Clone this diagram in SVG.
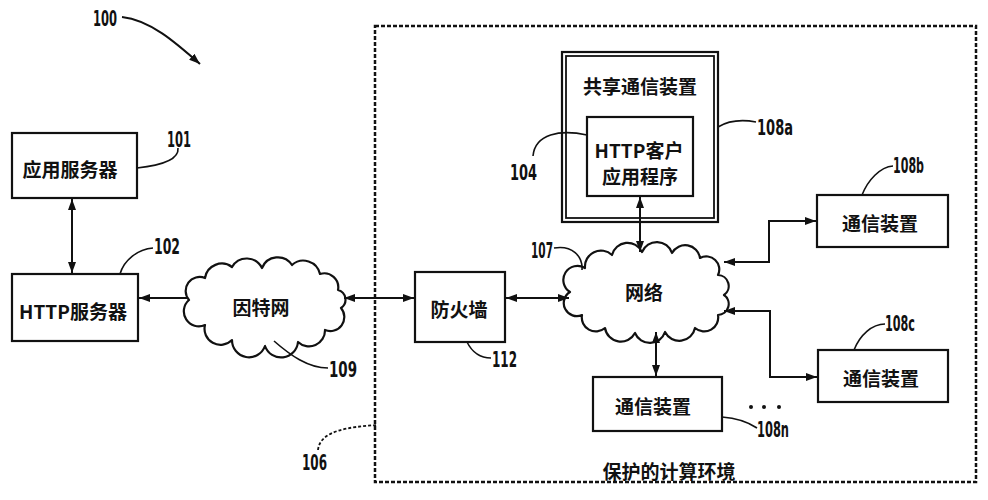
<svg xmlns="http://www.w3.org/2000/svg" width="988" height="500" viewBox="0 0 988 500">
<style>
.box{fill:#fff;stroke:#111;stroke-width:2.2}
.cloud{fill:#fff;stroke:#111;stroke-width:2.2;stroke-linejoin:round}
.t{font-family:"Noto Sans CJK SC","Noto Sans",sans-serif;font-weight:bold;font-size:19px;fill:#111;text-anchor:middle;dominant-baseline:central}
.n{font-family:"DejaVu Sans Condensed","Liberation Sans",sans-serif;font-weight:bold;font-size:21px;fill:#111}
.lead{fill:none;stroke:#111;stroke-width:1.6}
.conn{fill:none;stroke:#111;stroke-width:2}
</style>
<defs>
<marker id="ah" markerUnits="userSpaceOnUse" markerWidth="11" markerHeight="8" refX="11" refY="4" orient="auto-start-reverse">
<path d="M0,0 L11,4 L0,8 z" fill="#111"/>
</marker>
</defs>

<g id="boundary">
<rect x="375" y="26" width="601" height="456" fill="none" stroke="#111" stroke-width="2.5" stroke-dasharray="4 2"/>
<text class="t" x="669" y="470">保护的计算环境</text>
<path d="M318,450 C320,430 350,427 377,425" fill="none" stroke="#111" stroke-width="1.8" stroke-dasharray="3 2"/>
<text class="n" x="302" y="470" textLength="25" lengthAdjust="spacingAndGlyphs">106</text>
</g>

<g id="label100">
<text class="n" x="93" y="26" textLength="24" lengthAdjust="spacingAndGlyphs">100</text>
<path d="M122,17 C150,20 175,42 200,64" class="conn" marker-end="url(#ah)"/>
</g>

<g id="app-server">
<rect class="box" x="12" y="133" width="125" height="65"/>
<text class="t" x="70" y="168">应用服务器</text>
<path class="lead" d="M137,168 C165,165 179,158 178,148"/>
<text class="n" x="167" y="147" textLength="24" lengthAdjust="spacingAndGlyphs">101</text>
</g>

<g id="http-server">
<rect class="box" x="12" y="274" width="126" height="67"/>
<text class="t" x="73" y="310">HTTP服务器</text>
<path class="lead" d="M120,274 C124,260 138,249 153,248"/>
<text class="n" x="154" y="254" textLength="26" lengthAdjust="spacingAndGlyphs">102</text>
</g>

<g id="internet">
<path class="cloud" d="M189,300 A14,14 0 0,1 205,278 A17,17 0 0,1 232,267 A17,17 0 0,1 262,268 A17,17 0 0,1 292,265 A17,17 0 0,1 320,274 A14,14 0 0,1 338,290 A10,10 0 0,1 341,308 A14,14 0 0,1 325,330 A16,16 0 0,1 298,342 A17,17 0 0,1 265,346 A17,17 0 0,1 232,340 A16,16 0 0,1 205,325 A15,15 0 0,1 189,300 Z"/>
<text class="t" x="261" y="306">因特网</text>
<path class="lead" d="M274,341 C290,355 308,368 328,368"/>
<text class="n" x="329" y="377" textLength="28" lengthAdjust="spacingAndGlyphs">109</text>
</g>

<g id="firewall">
<rect class="box" x="415" y="272" width="90" height="70"/>
<text class="t" x="459" y="308">防火墙</text>
<path class="lead" d="M467,342 C472,352 480,358 491,358"/>
<text class="n" x="492" y="367" textLength="25" lengthAdjust="spacingAndGlyphs">112</text>
</g>

<g id="network">
<path class="cloud" d="M570,292 A14,14 0 0,1 585,268 A16,16 0 0,1 612,255 A16,16 0 0,1 642,252 A16,16 0 0,1 672,253 A15,15 0 0,1 700,258 A13,13 0 0,1 718,275 A11,11 0 0,1 724,295 A11,11 0 0,1 718,315 A14,14 0 0,1 695,328 A16,16 0 0,1 665,332 A16,16 0 0,1 635,333 A16,16 0 0,1 605,328 A14,14 0 0,1 582,315 A13,13 0 0,1 570,292 Z"/>
<text class="t" x="644" y="291">网络</text>
<path class="lead" d="M554,248 C572,245 583,256 582,270"/>
<text class="n" x="531" y="258" textLength="22" lengthAdjust="spacingAndGlyphs">107</text>
</g>

<g id="shared-device">
<rect class="box" x="562" y="52" width="156" height="170"/>
<rect fill="none" stroke="#111" stroke-width="1.8" x="566" y="56" width="148" height="162"/>
<text class="t" x="640" y="85">共享通信装置</text>
<path class="lead" d="M718,127 C728,121 740,119 756,122"/>
<text class="n" x="757" y="135" textLength="36" lengthAdjust="spacingAndGlyphs">108a</text>
</g>

<g id="http-client">
<rect class="box" x="587" y="117" width="106" height="79"/>
<text class="t" x="639" y="149">HTTP客户</text>
<text class="t" x="640" y="175">应用程序</text>
<path class="lead" d="M587,135 C560,129 535,134 533,156"/>
<text class="n" x="510" y="180" textLength="27" lengthAdjust="spacingAndGlyphs">104</text>
</g>

<g id="device-108b">
<rect class="box" x="817" y="195" width="131" height="52"/>
<text class="t" x="880" y="222">通信装置</text>
<path class="lead" d="M862,195 C868,180 880,167 893,166"/>
<text class="n" x="893" y="173" textLength="31" lengthAdjust="spacingAndGlyphs">108b</text>
</g>

<g id="device-108c">
<rect class="box" x="818" y="350" width="130" height="52"/>
<text class="t" x="881" y="377">通信装置</text>
<path class="lead" d="M854,350 C860,335 872,324 885,324"/>
<text class="n" x="885" y="331" textLength="30" lengthAdjust="spacingAndGlyphs">108c</text>
</g>

<g id="device-108n">
<rect class="box" x="593" y="377" width="129" height="54"/>
<text class="t" x="653" y="405">通信装置</text>
<path class="lead" d="M722,417 C736,418 748,422 757,428"/>
<text class="n" x="757" y="437" textLength="32" lengthAdjust="spacingAndGlyphs">108n</text>
<circle cx="751" cy="407" r="2" fill="#111"/>
<circle cx="764" cy="407" r="2" fill="#111"/>
<circle cx="779" cy="407" r="2" fill="#111"/>
</g>

<g id="connectors">
<line x1="72" y1="199" x2="72" y2="273" class="conn" marker-start="url(#ah)" marker-end="url(#ah)"/>
<line x1="187" y1="298" x2="139" y2="298" class="conn" marker-end="url(#ah)"/>
<line x1="344" y1="298" x2="414" y2="298" class="conn" marker-start="url(#ah)" marker-end="url(#ah)"/>
<line x1="506" y1="298" x2="569" y2="298" class="conn" marker-start="url(#ah)" marker-end="url(#ah)"/>
<line x1="640" y1="197" x2="640" y2="252" class="conn" marker-start="url(#ah)" marker-end="url(#ah)"/>
<line x1="656" y1="332" x2="656" y2="376" class="conn" marker-start="url(#ah)" marker-end="url(#ah)"/>
<path d="M724,262 H769 V221 H816" class="conn" marker-start="url(#ah)" marker-end="url(#ah)"/>
<path d="M724,311 H770 V377 H817" class="conn" marker-start="url(#ah)" marker-end="url(#ah)"/>
</g>
</svg>
